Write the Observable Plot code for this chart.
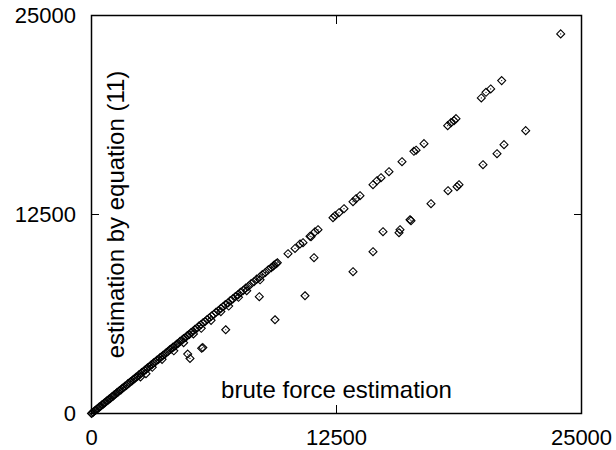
<!DOCTYPE html>
<html><head><meta charset="utf-8">
<script src="https://cdn.jsdelivr.net/npm/d3@7"></script>
<script src="https://cdn.jsdelivr.net/npm/@observablehq/plot@0.6"></script>
<style>body{margin:0;background:#fff}</style>
</head><body><div id="chart"></div>
<script>
const xTicks = [0, 12500, 25000];
const yTicks = [0, 12500, 25000];
const xLabel = "brute force estimation";
const yLabel = "estimation by equation (11)";

// dense band along the diagonal
const bruteDense = [0,40,90,150,210,260,330,390,450,520,580,640,700,770,830,900,960,1030,1100,1160,1230,1300,1360,1430,1500,1570,1640,1700,1780,1850,1920,1990,2060,2130,2200,2270,2340,2420,2490,2560,2640,2710,2790,2860,2940,3020,3090,3170,3250,3330,3410,3490,3570,3650,3740,3820,3900,3990,4070,4160,4250,4340,4430,4520,4610,4700,4800,4890,4990,5080,5180,5280,5380,5480,5580,5690,5800,5900,6010,6120,6240,6350,6470,6590,6710,6830,6960,7080,7210,7340,7470,7600,7740,7870,8010,8150,8290,8430,8580,8720,8870,9020,9170,9320,9420];
const eqDense    = [0,45,80,160,200,270,320,400,440,530,570,650,690,780,820,905,950,1040,1085,1170,1220,1310,1350,1440,1480,1580,1630,1710,1760,1860,1910,2000,2040,2140,2190,2280,2320,2430,2470,2570,2620,2720,2780,2870,2920,3030,3080,3180,3230,3340,3390,3500,3560,3660,3720,3830,3890,4000,4060,4170,4230,4350,4410,4530,4600,4710,4780,4900,4970,5090,5170,5290,5360,5490,5570,5700,5780,5910,6000,6130,6220,6360,6450,6600,6700,6840,6940,7090,7200,7350,7450,7610,7730,7880,7990,8160,8280,8440,8560,8730,8860,9030,9160,9330,9410];

// points just under the band
const bruteBelow = [2500,2780,3100,3600,4200,4700,5200,5600,6100,6600,7000,7500,7920,8600];
const eqBelow    = [2300,2500,2900,3400,3940,4450,5000,5350,5850,6400,6750,7300,7710,8400];

// sparser points on the diagonal
const bruteUpper = [9276,9480,10026,10383,10638,10791,11148,11199,11403,11556,12321,12423,12627,12883,13342,13495,13699,14362,14566,14770,15178,15842,16450,16560,16964,18173,18342,18495,18597,19888,20128,20367,20928,23939];
const eqUpper    = [9260,9470,10040,10370,10650,10729,11140,11106,11410,11546,12300,12425,12614,12865,13305,13494,13683,14374,14625,14814,15191,15819,16470,16540,16951,18082,18271,18396,18522,19823,20175,20389,20910,23845];

// lower scattered group
const bruteLower = [4908,5025,5620,5680,6847,8561,9362,10893,11352,13342,14362,14872,15689,15740,16250,16301,17321,18189,18648,18750,19974,20689,21046,22153];
const eqLower    = [3733,3457,4100,4140,5261,7335,5889,7397,9786,8906,10163,11420,11357,11546,12170,12111,13180,13997,14248,14374,15631,16322,16888,17768];

const bruteAll = [...bruteDense, ...bruteBelow, ...bruteUpper, ...bruteLower];
const eqAll = [...eqDense, ...eqBelow, ...eqUpper, ...eqLower];
const pts = bruteAll.map((x, i) => ({x, y: eqAll[i]}));

const chart = Plot.plot({
  width: 616, height: 450,
  marginLeft: 91, marginRight: 35, marginTop: 15, marginBottom: 37,
  x: {domain: [0, 25000]},
  y: {domain: [0, 25000]},
  style: {fontFamily: "'Liberation Sans', Arial, sans-serif", fontSize: "22px", background: "#fff", color: "#000"},
  marks: [
    Plot.dot(pts, {x: "x", y: "y", symbol: "diamond2", r: 3.6, stroke: "#000", strokeWidth: 1.1, fill: "none"}),
    Plot.dot(pts, {x: "x", y: "y", r: 0.6, fill: "#000"}),
    Plot.axisX({ticks: xTicks, anchor: "bottom", tickSize: -8, tickPadding: 23.6, tickFormat: d => String(d), label: null, fontSize: 22}),
    Plot.axisX({ticks: xTicks, anchor: "top", tickSize: -8, tickFormat: () => "", label: null}),
    Plot.axisY({ticks: yTicks, anchor: "left", tickSize: -8, tickPadding: 23.5, tickFormat: d => String(d), label: null, fontSize: 22}),
    Plot.axisY({ticks: yTicks, anchor: "right", tickSize: -8, tickFormat: () => "", label: null}),
    Plot.frame({stroke: "#000", strokeWidth: 1.5}),
    Plot.text([xLabel], {frameAnchor: "bottom", dy: -16, lineAnchor: "bottom", fontSize: 24}),
    Plot.text([yLabel], {frameAnchor: "left", dx: 32, rotate: -90, lineAnchor: "bottom", textAnchor: "middle", fontSize: 24})
  ]
});
document.getElementById("chart").appendChild(chart);
</script>
</body></html>
